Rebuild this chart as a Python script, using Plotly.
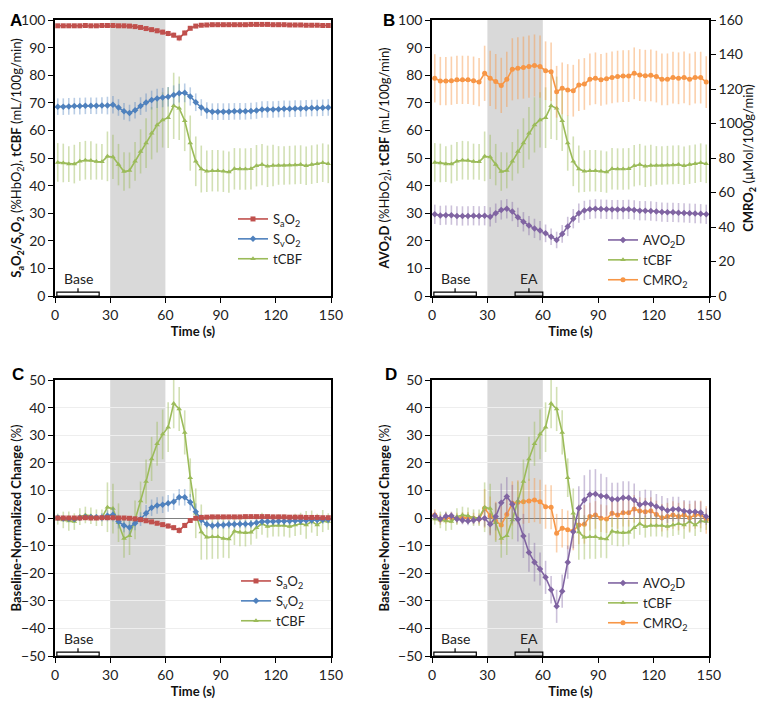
import plotly.graph_objects as go

# time points (s), one every 3 s
TIME = [1.5, 4.5, 7.5, 10.5, 13.5, 16.5, 19.5, 22.5, 25.5, 28.5,
        31.5, 34.5, 37.5, 40.5, 43.5, 46.5, 49.5, 52.5, 55.5, 58.5,
        61.5, 64.5, 67.5, 70.5, 73.5, 76.5, 79.5, 82.5, 85.5, 88.5,
        91.5, 94.5, 97.5, 100.5, 103.5, 106.5, 109.5, 112.5, 115.5, 118.5,
        121.5, 124.5, 127.5, 130.5, 133.5, 136.5, 139.5, 142.5, 145.5, 148.5]

# ---- panel A / B absolute values ----
SAO2 = [97.9, 97.9, 97.9, 97.9, 97.9, 98.0, 97.9, 97.9, 98.0, 98.0,
        98.0, 97.9, 97.9, 97.8, 97.6, 97.3, 96.9, 96.5, 96.1, 95.6,
        95.1, 94.5, 93.5, 95.3, 97.0, 97.8, 98.1, 98.2, 98.3, 98.3,
        98.3, 98.3, 98.3, 98.3, 98.3, 98.4, 98.4, 98.4, 98.4, 98.3,
        98.3, 98.3, 98.2, 98.2, 98.2, 98.1, 98.1, 98.1, 98.0, 98.0]
SAO2_ERR = [0.5, 0.5, 0.5, 0.5, 0.5, 0.5, 0.5, 0.5, 0.5, 0.5,
            0.5, 0.5, 0.6, 0.6, 0.7, 0.7, 0.8, 0.8, 0.9, 0.9,
            1.0, 1.0, 1.2, 1.0, 0.8, 0.6, 0.5, 0.5, 0.5, 0.5,
            0.5, 0.5, 0.5, 0.5, 0.5, 0.5, 0.5, 0.5, 0.5, 0.5,
            0.5, 0.5, 0.5, 0.5, 0.5, 0.5, 0.5, 0.5, 0.5, 0.5]
SVO2 = [68.6, 68.6, 68.7, 68.8, 68.8, 68.9, 68.9, 68.9, 69.0, 69.0,
        69.3, 68.3, 66.9, 66.3, 67.3, 68.8, 70.1, 71.0, 71.6, 71.9,
        72.2, 72.8, 73.5, 73.6, 72.3, 70.2, 68.3, 67.2, 66.8, 66.8,
        66.8, 66.8, 66.9, 66.9, 66.9, 67.0, 67.2, 67.6, 67.6, 67.6,
        67.7, 67.8, 67.8, 67.9, 67.9, 68.0, 68.1, 68.1, 68.2, 68.3]
SVO2_ERR = [3.0, 3.0, 3.0, 3.0, 3.0, 3.0, 3.0, 3.0, 3.0, 3.2,
            3.2, 3.0, 3.0, 3.0, 3.0, 3.2, 3.3, 3.4, 3.5, 3.5,
            3.5, 3.5, 3.4, 3.4, 3.3, 3.2, 3.0, 3.0, 3.0, 3.0,
            3.0, 3.0, 3.0, 3.0, 3.0, 3.0, 3.0, 3.0, 3.0, 3.0,
            3.0, 3.0, 3.0, 3.0, 3.0, 3.0, 3.0, 3.0, 3.0, 3.0]
TCBF = [48.4, 48.2, 47.8, 47.8, 48.8, 49.2, 49.1, 48.7, 48.6, 50.6,
        50.4, 47.6, 45.1, 45.5, 48.8, 52.4, 55.4, 59.0, 62.0, 63.8,
        64.6, 68.9, 68.0, 63.5, 55.4, 48.8, 46.0, 45.2, 45.4, 45.4,
        45.2, 44.9, 46.1, 46.0, 46.0, 46.1, 47.2, 47.6, 47.0, 47.3,
        47.3, 47.3, 47.4, 47.5, 47.6, 47.2, 47.6, 47.9, 48.3, 47.9]
TCBF_ERR = [7.0, 7.0, 6.5, 7.0, 7.0, 7.0, 7.0, 6.5, 6.5, 9.0,
            8.0, 7.5, 7.0, 6.5, 7.0, 8.0, 9.0, 9.5, 10.0, 10.0,
            11.0, 12.0, 11.5, 11.0, 10.0, 9.0, 8.5, 7.5, 7.5, 7.5,
            7.5, 7.5, 7.5, 7.5, 7.5, 7.5, 7.5, 7.5, 7.5, 7.5,
            7.0, 7.0, 7.0, 7.0, 7.0, 7.0, 7.0, 7.0, 7.0, 7.0]
AVO2D = [29.6, 29.2, 29.3, 29.3, 29.0, 29.0, 29.0, 29.1, 29.0, 29.1,
         28.7, 30.0, 31.2, 31.6, 30.6, 28.5, 26.9, 25.5, 24.5, 23.7,
         22.7, 21.5, 20.3, 22.5, 25.2, 28.0, 30.0, 31.0, 31.4, 31.6,
         31.5, 31.4, 31.3, 31.3, 31.3, 31.4, 31.2, 30.9, 30.9, 30.8,
         30.6, 30.4, 30.3, 30.3, 30.2, 30.1, 30.0, 29.9, 29.8, 29.6]
AVO2D_ERR = [3.5, 3.5, 3.5, 3.5, 3.5, 3.5, 3.5, 3.5, 3.5, 3.5,
             3.5, 3.5, 3.5, 3.5, 3.5, 3.5, 3.5, 3.5, 3.5, 3.5,
             3.2, 3.0, 3.0, 3.2, 3.5, 3.5, 3.5, 3.5, 3.5, 3.5,
             3.5, 3.5, 3.5, 3.5, 3.5, 3.5, 3.5, 3.5, 3.5, 3.5,
             3.5, 3.5, 3.5, 3.5, 3.5, 3.5, 3.5, 3.5, 3.5, 3.5]
CMRO2 = [126.2, 124.6, 124.6, 124.8, 125.3, 125.3, 125.3, 124.8, 124.0, 129.1,
         126.2, 124.3, 122.1, 125.6, 131.4, 132.0, 132.4, 133.0, 133.6, 133.0,
         130.6, 130.0, 118.4, 120.4, 119.4, 119.0, 122.3, 122.9, 125.6, 126.2,
         125.3, 126.0, 126.7, 127.2, 127.5, 127.5, 129.1, 128.1, 127.7, 127.9,
         127.2, 125.6, 125.6, 126.6, 126.2, 126.7, 125.6, 126.6, 126.6, 124.0]
CMRO2_ERR = [14, 14, 14, 14, 14, 14, 14, 14, 14, 16,
             16, 16, 16, 16, 18, 18, 18, 18, 18, 18,
             17, 17, 15, 15, 15, 15, 15, 15, 15, 15,
             15, 15, 15, 15, 15, 15, 15, 15, 15, 15,
             15, 15, 15, 15, 15, 15, 15, 15, 15, 15]

# ---- panel C / D baseline-normalized change (%) ----
SAO2_N = [0.0, 0.0, 0.0, 0.0, 0.0, 0.1, 0.0, 0.0, 0.1, 0.1,
          0.1, 0.0, 0.0, -0.1, -0.3, -0.6, -1.0, -1.4, -1.9, -2.4,
          -2.9, -3.5, -4.5, -2.7, -0.9, -0.1, 0.2, 0.3, 0.4, 0.4,
          0.4, 0.4, 0.4, 0.4, 0.5, 0.5, 0.5, 0.5, 0.5, 0.4,
          0.4, 0.4, 0.3, 0.3, 0.3, 0.2, 0.2, 0.2, 0.1, 0.1]
SAO2_N_ERR = [0.5, 0.5, 0.5, 0.5, 0.5, 0.5, 0.5, 0.5, 0.5, 0.5,
              0.5, 0.5, 0.6, 0.6, 0.7, 0.7, 0.8, 0.8, 0.9, 0.9,
              1.0, 1.0, 1.2, 1.0, 0.8, 0.6, 0.5, 0.5, 0.5, 0.5,
              0.5, 0.5, 0.5, 0.5, 0.5, 0.5, 0.5, 0.5, 0.5, 0.5,
              0.5, 0.5, 0.5, 0.5, 0.5, 0.5, 0.5, 0.5, 0.5, 0.5]
SVO2_N = [0.1, -0.2, -0.3, -0.4, 0.1, 0.4, 0.3, 0.3, 0.2, 0.8,
          1.2, -1.3, -2.7, -3.4, -1.9, -0.4, 1.7, 3.7, 4.5, 4.8,
          5.3, 5.9, 7.5, 7.5, 5.7, 2.3, -0.7, -2.3, -2.8, -2.5,
          -2.5, -2.3, -2.3, -2.2, -2.2, -2.2, -1.7, -1.3, -1.3, -1.3,
          -1.2, -1.2, -1.1, -1.0, -1.0, -0.9, -0.8, -0.7, -0.6, -0.5]
SVO2_N_ERR = [1.0, 1.0, 1.0, 1.0, 1.0, 1.0, 1.0, 1.0, 1.5, 2.0,
              2.5, 2.5, 2.5, 2.5, 2.5, 2.5, 3.0, 3.0, 3.0, 3.0,
              3.0, 3.0, 3.0, 3.0, 3.0, 3.0, 2.0, 1.5, 1.5, 1.5,
              1.5, 1.5, 1.5, 1.5, 1.5, 1.5, 1.5, 1.5, 1.5, 1.5,
              1.5, 1.5, 1.5, 1.5, 1.5, 1.5, 1.5, 1.5, 1.5, 1.5]
TCBF_N = [-0.4, -0.7, -1.1, -1.3, 0.5, 1.1, 0.8, 0.1, 0.1, 3.9,
          3.4, -1.7, -7.4, -6.4, -0.7, 6.2, 13.2, 21.4, 26.9, 30.3,
          32.9, 41.5, 39.5, 31.0, 14.6, 1.7, -5.1, -7.0, -6.8, -6.8,
          -7.4, -7.6, -4.8, -5.2, -5.3, -5.2, -3.5, -2.1, -3.1, -2.7,
          -2.7, -2.7, -3.1, -2.5, -2.1, -2.5, -1.3, -2.5, -1.1, -1.3]
TCBF_N_ERR = [2.0, 3.0, 3.5, 3.0, 3.0, 3.0, 3.0, 3.0, 3.0, 9.0,
              9.0, 7.0, 7.0, 7.0, 7.0, 7.0, 8.0, 8.0, 8.0, 9.0,
              9.0, 9.0, 8.0, 8.0, 7.0, 9.0, 10.0, 8.0, 8.0, 8.0,
              7.0, 7.0, 5.0, 5.0, 5.0, 4.5, 4.0, 4.0, 4.0, 4.0,
              4.0, 4.0, 4.0, 4.0, 4.0, 5.0, 4.0, 4.0, 4.0, 3.0]
AVO2D_N = [0.8, -0.4, 0.6, 0.8, -0.4, -0.8, -1.1, -0.8, -0.4, -0.1,
           -2.3, 0.5, 5.5, 7.8, 5.0, -0.5, -6.5, -12.5, -16.0, -18.5,
           -21.5, -26.0, -32.0, -26.5, -16.0, -5.0, 3.5, 6.5, 8.5, 8.7,
           8.0, 7.8, 6.8, 6.8, 7.3, 7.3, 6.5, 4.8, 5.3, 5.0,
           4.2, 3.5, 2.7, 3.2, 3.2, 2.5, 2.3, 2.3, 2.0, 0.5]
AVO2D_N_ERR = [1.5, 1.5, 1.5, 1.5, 1.5, 1.5, 1.5, 1.5, 1.5, 3.0,
               4.0, 5.0, 7.0, 7.0, 7.0, 8.0, 8.0, 7.0, 7.0, 6.0,
               6.0, 5.0, 6.0, 6.0, 6.0, 6.0, 8.0, 9.0, 9.0, 9.0,
               8.0, 7.0, 6.0, 6.0, 6.0, 6.0, 6.0, 5.0, 5.0, 5.0,
               4.5, 4.5, 4.5, 4.5, 4.5, 4.0, 4.0, 4.0, 4.0, 3.0]
CMRO2_N = [1.1, -0.5, -0.1, 0.1, -0.1, 0.1, 0.2, -0.1, -0.4, 3.5,
           0.8, -1.1, -2.5, 1.3, 5.3, 5.7, 5.9, 6.2, 6.5, 5.9,
           4.1, 3.9, -5.5, -3.7, -4.3, -4.7, -2.5, -2.3, 0.5, 1.1,
           -0.1, -0.4, 1.7, 1.1, 1.9, 1.9, 3.3, 2.5, 2.3, 2.5,
           1.3, 0.1, 0.5, 1.1, 0.5, 1.1, 0.1, 1.1, 1.3, -0.7]
CMRO2_N_ERR = [2.0, 2.0, 2.0, 2.0, 2.0, 2.0, 2.0, 2.0, 2.0, 7.0,
               7.0, 7.0, 7.0, 7.0, 8.0, 8.0, 8.0, 8.0, 8.0, 8.0,
               8.0, 8.0, 7.0, 7.0, 7.0, 7.0, 7.0, 7.0, 5.0, 5.0,
               5.0, 5.0, 5.0, 5.0, 5.0, 5.0, 5.0, 5.0, 5.0, 5.0,
               5.0, 5.0, 5.0, 5.0, 5.0, 5.0, 5.0, 5.0, 5.0, 5.0]

X_TICKS = [0, 30, 60, 90, 120, 150]

RED, RED_E = "#C0504D", "rgba(192,80,77,0.35)"
BLUE, BLUE_E = "#4F81BD", "rgba(79,129,189,0.40)"
GREEN, GREEN_E = "#9BBB59", "rgba(155,187,89,0.45)"
PURPLE, PURPLE_E = "#8064A2", "rgba(128,100,162,0.40)"
ORANGE, ORANGE_E = "#F79646", "rgba(247,150,70,0.45)"

FONT = "Lato"
# the page body has an 8 px margin on every side; keep the figure inside the window
OFF = 8
W, H = 766 - 2 * OFF, 707 - 2 * OFF


def px_x(p):
    return (p - OFF) / W


def px_y(p):
    return 1 - (p - OFF) / H


fig = go.Figure()


def add_series(y, err, name, color, ecolor, symbol, xa, ya, legend):
    fig.add_trace(go.Scatter(
        x=TIME, y=y, name=name, mode="lines+markers",
        line=dict(color=color, width=1.6),
        marker=dict(symbol=symbol, size=5, color=color),
        error_y=dict(type="data", array=err, color=ecolor, thickness=1.6, width=0),
        xaxis=xa, yaxis=ya, legend=legend,
    ))


SA = "S<sub>a</sub>O<sub>2</sub>"
SV = "S<sub>v</sub>O<sub>2</sub>"
AV = "AVO<sub>2</sub>D"
CM = "CMRO<sub>2</sub>"

# A
add_series(TCBF, TCBF_ERR, "tCBF", GREEN, GREEN_E, "triangle-up", "x", "y", "legend")
add_series(SVO2, SVO2_ERR, SV, BLUE, BLUE_E, "diamond", "x", "y", "legend")
add_series(SAO2, SAO2_ERR, SA, RED, RED_E, "square", "x", "y", "legend")
# B
add_series(CMRO2, CMRO2_ERR, CM, ORANGE, ORANGE_E, "circle", "x2", "y3", "legend2")
add_series(TCBF, TCBF_ERR, "tCBF", GREEN, GREEN_E, "triangle-up", "x2", "y2", "legend2")
add_series(AVO2D, AVO2D_ERR, AV, PURPLE, PURPLE_E, "diamond", "x2", "y2", "legend2")
# C
add_series(TCBF_N, TCBF_N_ERR, "tCBF", GREEN, GREEN_E, "triangle-up", "x3", "y4", "legend3")
add_series(SVO2_N, SVO2_N_ERR, SV, BLUE, BLUE_E, "diamond", "x3", "y4", "legend3")
add_series(SAO2_N, SAO2_N_ERR, SA, RED, RED_E, "square", "x3", "y4", "legend3")
# D
add_series(CMRO2_N, CMRO2_N_ERR, CM, ORANGE, ORANGE_E, "circle", "x4", "y5", "legend4")
add_series(TCBF_N, TCBF_N_ERR, "tCBF", GREEN, GREEN_E, "triangle-up", "x4", "y5", "legend4")
add_series(AVO2D_N, AVO2D_N_ERR, AV, PURPLE, PURPLE_E, "diamond", "x4", "y5", "legend4")

top_y = [px_y(296), px_y(20)]
bot_y = [px_y(656), px_y(380)]
left_x = [px_x(55), px_x(331)]
right_x = [px_x(432), px_x(709)]

tick_font = dict(family=FONT, size=14, color="#222")
title_font = dict(family=FONT, size=13, color="#111")


def xaxis(domain, anchor):
    return dict(domain=domain, anchor=anchor, range=[0, 150], tickvals=X_TICKS,
                showline=True, linecolor="black", linewidth=1.5, mirror=True,
                ticks="outside", ticklen=5, tickcolor="black", showgrid=False,
                zeroline=False, tickfont=tick_font, automargin=False,
                title=dict(text="<b>Time (s)</b>", font=title_font, standoff=4))


def yaxis(domain, anchor, rng, dtick, title, grid=False):
    return dict(domain=domain, anchor=anchor, range=rng, dtick=dtick,
                showline=True, linecolor="black", linewidth=1.5, mirror=True,
                ticks="outside", ticklen=5, tickcolor="black",
                showgrid=grid, gridcolor="#eeeeee",
                zeroline=grid, zerolinecolor="#808080", zerolinewidth=1.2,
                tickfont=tick_font, automargin=False,
                title=dict(text=title, font=title_font, standoff=6))


fig.update_layout(
    width=W, height=H, autosize=False,
    margin=dict(l=0, r=0, t=0, b=0, pad=0),
    paper_bgcolor="white", plot_bgcolor="white",
    font=dict(family=FONT),
    xaxis=xaxis(left_x, "y"),
    yaxis=yaxis(top_y, "x", [0, 100], 10,
                "<b>" + SA + "/" + SV + "</b> (%HbO<sub>2</sub>), <b>tCBF</b> (mL/100g/min)"),
    xaxis2=xaxis(right_x, "y2"),
    yaxis2=yaxis(top_y, "x2", [0, 100], 10,
                 "<b>" + AV + "</b> (%HbO<sub>2</sub>), <b>tCBF</b> (mL/100g/min)"),
    yaxis3=dict(overlaying="y2", side="right", anchor="x2", range=[0, 160], dtick=20,
                showline=True, linecolor="black", linewidth=1.5,
                ticks="outside", ticklen=5, tickcolor="black", showgrid=False,
                zeroline=False, tickfont=tick_font, automargin=False,
                title=dict(text="<b>" + CM + "</b> (µMol/100g/min)", font=title_font, standoff=2)),
    xaxis3=xaxis(left_x, "y4"),
    yaxis4=yaxis(bot_y, "x3", [-50, 50], 10,
                 "<b>Baseline-Normalized Change</b> (%)", grid=True),
    xaxis4=xaxis(right_x, "y5"),
    yaxis5=yaxis(bot_y, "x4", [-50, 50], 10,
                 "<b>Baseline-Normalized Change</b> (%)", grid=True),
)

leg = dict(bgcolor="rgba(0,0,0,0)", font=dict(family=FONT, size=13, color="#222"),
           traceorder="reversed", itemwidth=30, tracegroupgap=0,
           xanchor="left", yanchor="top")
fig.update_layout(
    legend=dict(leg, x=px_x(233), y=px_y(204)),
    legend2=dict(leg, x=px_x(603), y=px_y(225)),
    legend3=dict(leg, x=px_x(236), y=px_y(566)),
    legend4=dict(leg, x=px_x(603), y=px_y(568)),
)

shapes = []
annotations = []
panels = [("x", "y", 0, False), ("x2", "y2", 0, True), ("x3", "y4", -50, False), ("x4", "y5", -50, True)]
for xr, yr, base, has_ea in panels:
    shapes.append(dict(type="rect", xref=xr, yref=yr + " domain", x0=30, x1=60, y0=0, y1=1,
                       fillcolor="#d9d9d9", line=dict(width=0), layer="below"))
    brackets = [(1, 24, "Base")]
    if has_ea:
        brackets.append((45, 60, "EA"))
    for a, b, label in brackets:
        mid = (a + b) / 2
        shapes.append(dict(type="path", xref=xr, yref=yr,
                           path=f"M {a},{base} L {a},{base + 1.4} L {b},{base + 1.4} L {b},{base} Z",
                           line=dict(color="black", width=1.2)))
        shapes.append(dict(type="line", xref=xr, yref=yr, x0=mid, x1=mid,
                           y0=base + 1.4, y1=base + 2.8, line=dict(color="black", width=1.2)))
        annotations.append(dict(xref=xr, yref=yr, x=mid, y=base + 6.3, text=label,
                                showarrow=False, font=dict(family=FONT, size=14, color="#222")))

for letter, lx, ly in [("A", 8, 9), ("B", 389, 9), ("C", 10, 375), ("D", 391, 375)]:
    annotations.append(dict(xref="paper", yref="paper", x=px_x(lx), y=px_y(ly), text=f"<b>{letter}</b>",
                            showarrow=False, font=dict(family="Liberation Sans", size=17, color="black")))

fig.update_layout(shapes=shapes, annotations=annotations)

fig.write_html("out.html")
